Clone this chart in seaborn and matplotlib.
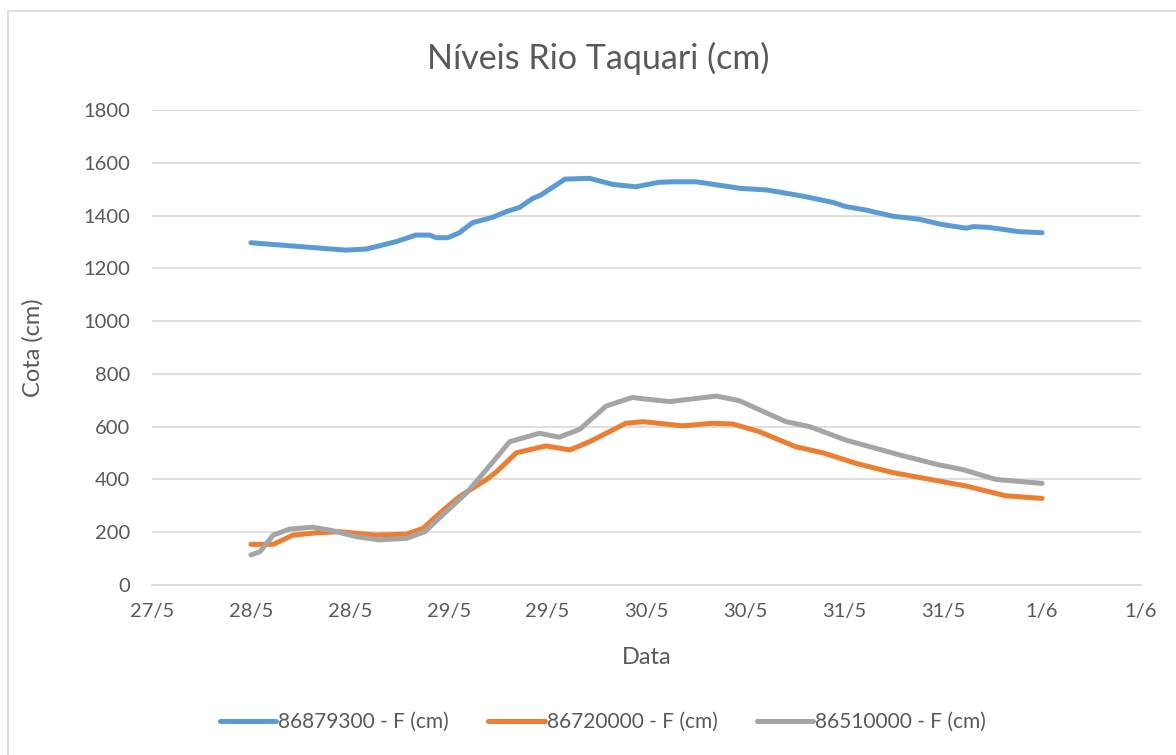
import matplotlib
matplotlib.use("Agg")
import matplotlib.pyplot as plt
import matplotlib.dates as mdates
from matplotlib.lines import Line2D
from matplotlib.ticker import FuncFormatter
import seaborn as sns
import pandas as pd

# hours since 28/5 00:00 and levels (cm)
hours_86879300 = [0, 11.5, 14, 17.6, 20, 21.7, 22.5, 23.9, 25.3, 26.9, 29.3, 31.0, 32.6,
                  34.2, 35.2, 38.1, 41.1, 43.9, 46.7, 49.5, 51.2, 54.0, 59.4, 62.6, 66.9,
                  70.6, 72.2, 74.6, 77.8, 81.1, 83.7, 86.8, 87.6, 89.6, 93.2, 96]
level_86879300 = [1297, 1269, 1273, 1301, 1326, 1326, 1316, 1316, 1335, 1373, 1393, 1415, 1431,
                  1465, 1478, 1538, 1541, 1518, 1509, 1526, 1528, 1528, 1503, 1497, 1474,
                  1450, 1434, 1421, 1398, 1386, 1367, 1352, 1358, 1355, 1339, 1335]

hours_86720000 = [0, 2.7, 5.1, 8.0, 10.8, 15.2, 18.9, 20.9, 22.9, 25.3, 28.6, 29.8, 32.2,
                  35.8, 38.7, 41.1, 45.5, 47.6, 52.4, 56.0, 58.5, 61.7, 66.1, 69.4, 73.4,
                  77.9, 83.5, 86.8, 91.6, 96]
level_86720000 = [154, 154, 189, 198, 202, 189, 193, 215, 272, 335, 400, 429, 501,
                  527, 512, 543, 613, 619, 603, 613, 610, 581, 524, 501, 461,
                  426, 394, 375, 338, 328]

hours_86510000 = [0, 1.1, 2.7, 4.7, 7.5, 9.9, 12.8, 15.6, 18.9, 21.1, 23.7, 26.1, 28.6,
                  31.4, 35.0, 37.4, 39.9, 43.1, 46.3, 47.2, 50.8, 56.5, 59.3, 64.9, 67.8,
                  72.2, 78.7, 83.5, 86.3, 90.4, 96]
level_86510000 = [114, 126, 189, 212, 219, 206, 183, 171, 177, 202, 278, 347, 438,
                  543, 575, 560, 590, 678, 711, 707, 695, 716, 698, 619, 600,
                  549, 493, 455, 438, 400, 385]

series_names = ["86879300 - F (cm)", "86720000 - F (cm)", "86510000 - F (cm)"]
colors = ["#5B9BD5", "#ED7D31", "#A5A5A5"]

start = pd.Timestamp("2024-05-28")
frames = []
for name, hrs, lv in zip(series_names,
                         [hours_86879300, hours_86720000, hours_86510000],
                         [level_86879300, level_86720000, level_86510000]):
    frames.append(pd.DataFrame({"Data": start + pd.to_timedelta(hrs, unit="h"),
                                "Cota": lv, "Serie": name}))
df = pd.concat(frames, ignore_index=True)

sns.set_style("white")
plt.rcParams["font.family"] = ["Lato", "DejaVu Sans"]
text_c = "#595959"

fig = plt.figure(figsize=(11.76, 7.55), dpi=100)
ax = fig.add_axes([152 / 1176, 1 - 585 / 755, (1141 - 152) / 1176, (585 - 110) / 755])

sns.lineplot(data=df, x="Data", y="Cota", hue="Serie", palette=colors,
             hue_order=series_names, linewidth=3.6, ax=ax, legend=False,
             estimator=None, sort=True)

ax.set_ylim(0, 1800)
ax.set_yticks(range(0, 1801, 200))
ax.set_xlim(start - pd.Timedelta(hours=12), start + pd.Timedelta(hours=108))
ax.xaxis.set_major_locator(mdates.HourLocator(byhour=[0, 12]))
ax.xaxis.set_major_formatter(FuncFormatter(
    lambda v, p: f"{mdates.num2date(v).day}/{mdates.num2date(v).month}"))

ax.grid(axis="y", color="#D9D9D9", linewidth=1.2)
ax.grid(axis="x", visible=False)
for s in ["left", "right", "top"]:
    ax.spines[s].set_visible(False)
ax.spines["bottom"].set_color("#D9D9D9")
ax.spines["bottom"].set_linewidth(1.2)
ax.tick_params(axis="x", which="major", length=6, color="#D9D9D9", width=1.2,
               labelsize=14.5, labelcolor=text_c, pad=7)
ax.tick_params(axis="y", length=0, labelsize=14.5, labelcolor=text_c, pad=16)

ax.set_xlabel("Data", fontsize=17, color=text_c)
ax.set_ylabel("Cota (cm)", fontsize=17, color=text_c)
ax.xaxis.set_label_coords(0.5, -62 / 475)
ax.yaxis.set_label_coords(-108 / 989, 0.5)
fig.text(598 / 1176, 1 - 58 / 755, "Níveis Rio Taquari (cm)", ha="center", va="center",
         fontsize=24.5, color=text_c)

handles = [Line2D([0], [0], color=c, linewidth=3.6) for c in colors]
fig.legend(handles, series_names, loc="center", bbox_to_anchor=(603 / 1176, 1 - 722 / 755),
           ncol=3, frameon=False, fontsize=15, labelcolor=text_c, handlelength=2.7,
           handletextpad=0.1, columnspacing=1.9)

# chart area border (only left and top edges fall inside the image)
fig.add_artist(Line2D([8 / 1176, 8 / 1176], [0, 1 - 11 / 755], color="#D9D9D9",
                      linewidth=1.2, transform=fig.transFigure))
fig.add_artist(Line2D([8 / 1176, 1], [1 - 11 / 755, 1 - 11 / 755], color="#D9D9D9",
                      linewidth=1.2, transform=fig.transFigure))

fig.savefig("out.png", dpi=100, facecolor="white")
